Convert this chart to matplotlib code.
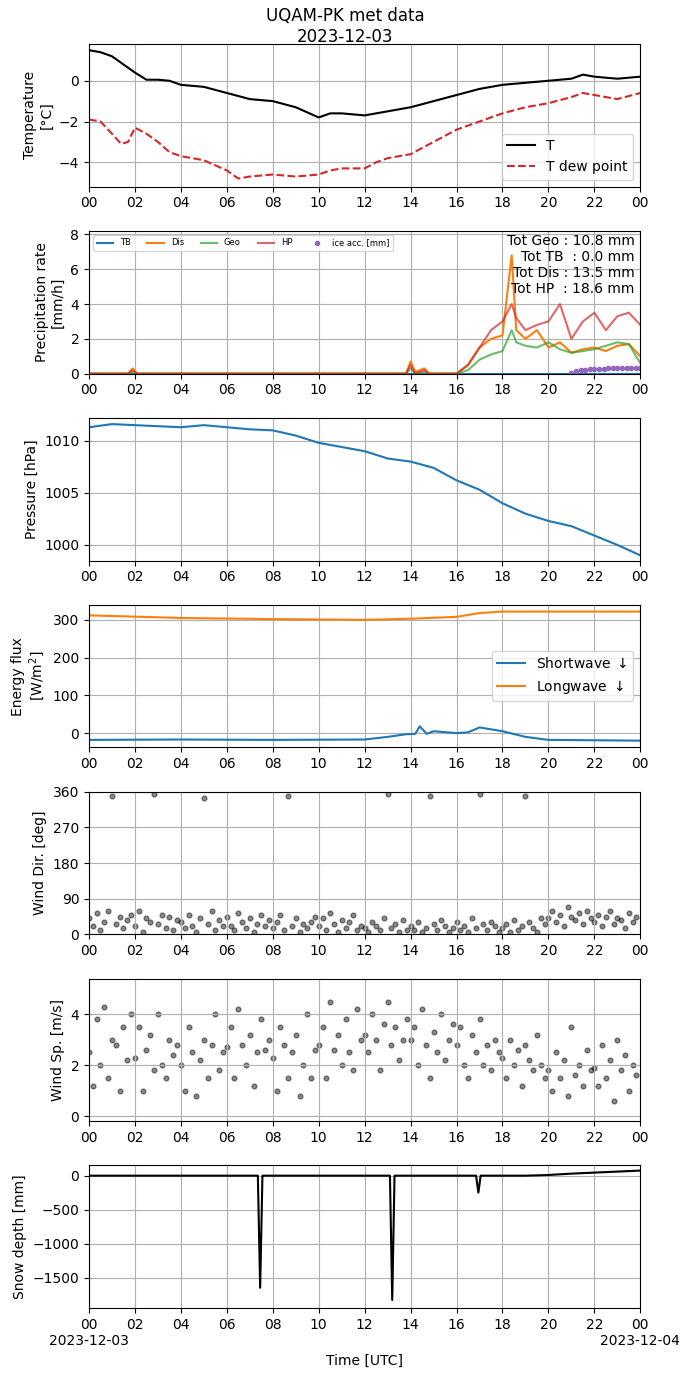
import matplotlib
matplotlib.use("Agg")
import matplotlib.pyplot as plt
import numpy as np

# Temperature
t_T = [0,0.5,1,1.5,2,2.5,3,3.5,4,5,6,7,8,9,10,10.5,11,12,13,14,15,16,17,18,19,20,21,21.5,22,23,24]
T = [1.5,1.4,1.2,0.8,0.4,0.05,0.05,0,-0.2,-0.3,-0.6,-0.9,-1.0,-1.3,-1.8,-1.6,-1.6,-1.7,-1.5,-1.3,-1.0,-0.7,-0.4,-0.2,-0.1,0,0.1,0.3,0.2,0.1,0.2]
t_Td = [0,0.5,1,1.4,1.7,2,2.5,3,3.5,4,5,6,6.5,7,8,9,10,10.5,11,12,12.5,13,14,15,16,17,18,19,20,21,21.5,22,23,24]
Td = [-1.9,-2.0,-2.6,-3.1,-3.0,-2.3,-2.6,-3.0,-3.5,-3.7,-3.9,-4.4,-4.8,-4.7,-4.6,-4.7,-4.6,-4.4,-4.3,-4.3,-4.0,-3.8,-3.6,-3.0,-2.4,-2.0,-1.6,-1.3,-1.1,-0.8,-0.6,-0.7,-0.9,-0.6]

# Precipitation
t_p = [0,1.7,1.9,2.1,13.8,14.0,14.2,14.6,14.8,15,16.0,16.5,17,17.5,18,18.4,18.6,19,19.5,20,20.5,21,21.5,22,22.5,23,23.5,24]
TB  = [0]*len(t_p)
Dis = [0,0,0.3,0,0,0.7,0.1,0.3,0,0,0,0.5,1.5,2.0,2.2,6.8,2.5,2.0,2.5,1.5,1.8,1.2,1.4,1.5,1.3,1.6,1.7,1.0]
Geo = [0,0,0.1,0,0,0.3,0,0.1,0,0,0,0.2,0.8,1.1,1.3,2.5,1.8,1.6,1.5,1.8,1.4,1.2,1.3,1.4,1.6,1.8,1.7,0.6]
HP  = [0,0,0.2,0,0,0.5,0,0.2,0,0,0,0.5,1.5,2.5,3.0,4.0,3.2,2.5,2.8,3.0,4.0,2.0,3.0,3.5,2.5,3.3,3.5,2.8]
t_ice = [21.0,21.2,21.4,21.6,21.8,22.0,22.2,22.4,22.6,22.8,23.0,23.2,23.4,23.6,23.8,24.0]
ice = [0.05,0.15,0.2,0.22,0.25,0.25,0.27,0.28,0.3,0.3,0.3,0.32,0.33,0.33,0.34,0.35]

# Pressure
t_P = list(range(25))
P = [1011.3,1011.6,1011.5,1011.4,1011.3,1011.5,1011.3,1011.1,1011.0,1010.5,1009.8,1009.4,1009.0,1008.3,1008.0,1007.4,1006.2,1005.3,1004.0,1003.0,1002.3,1001.8,1000.9,1000.0,999.0]

# Energy flux
t_sw = [0,4,8,12,13,13.8,14.2,14.4,14.7,15,16,16.5,17,17.5,18,19,20,24]
SW = [-18,-17,-18,-17,-10,-3,-2,18,-2,5,0,2,15,10,5,-10,-18,-20]
t_lw = [0,4,8,12,14,16,17,18,20,24]
LW = [312,305,302,300,303,308,318,322,322,322]

# Wind (10-min samples)
t_w = [i/6 for i in range(144)]
wdir = [40,20,55,10,30,60,350,25,45,15,35,50,
        20,60,5,40,30,355,25,50,15,45,10,35,
        30,15,50,20,5,40,345,25,60,10,35,20,
        45,20,10,55,30,15,40,5,25,50,20,35,
        15,30,50,10,350,20,40,5,25,15,30,45,
        20,40,10,55,25,5,35,15,30,50,10,20,
        15,5,30,20,10,40,355,15,25,5,35,10,
        20,10,30,5,15,350,25,10,35,20,5,15,
        30,10,20,5,40,15,355,25,10,30,20,5,
        15,25,5,35,10,20,350,30,15,5,40,25,
        40,60,30,50,20,70,45,35,55,25,60,40,
        30,50,20,45,60,25,40,35,15,55,30,45]
wsp = [2.5,1.2,3.8,2.0,4.3,1.5,3.0,2.8,1.0,3.5,2.2,4.0,
       2.3,3.5,1.0,2.6,3.2,1.8,4.0,2.0,1.5,3.0,2.4,2.8,
       2.0,1.0,3.5,2.5,0.8,2.2,3.0,1.5,2.8,4.0,1.8,2.5,
       2.7,3.5,1.5,4.2,2.8,2.0,3.2,1.2,2.5,3.8,2.6,3.0,
       2.3,1.0,3.5,2.8,1.5,2.5,3.2,0.8,2.0,4.0,1.5,2.6,
       2.8,3.5,1.5,4.5,2.6,3.2,2.0,3.8,2.5,1.8,4.2,3.0,
       3.2,2.5,4.0,3.0,1.8,3.6,4.5,2.8,3.5,2.2,3.0,3.8,
       3.0,3.5,2.0,4.2,2.8,1.5,3.3,2.5,4.0,2.2,3.0,3.6,
       2.8,3.5,2.0,1.5,3.2,2.5,3.8,2.0,2.8,1.8,3.0,2.5,
       2.3,1.5,3.0,2.0,2.6,1.2,2.8,2.2,1.8,3.2,2.0,1.5,
       1.8,1.0,2.5,1.5,2.2,0.8,3.5,1.6,2.0,1.2,2.6,1.8,
       1.9,1.2,2.8,1.5,2.2,0.6,3.0,1.8,2.4,1.0,2.0,1.6]

# Snow depth
t_s = [0,7.35,7.45,7.55,13.1,13.2,13.3,16.85,16.95,17.05,19,20,21,22,24]
S = [0,0,-1650,0,0,-1830,0,0,-250,0,0,10,30,45,75]

fig, axs = plt.subplots(7,1,figsize=(6.9,13.77),dpi=100)
fig.subplots_adjust(left=0.129,right=0.928,top=0.968,bottom=0.05,hspace=0.31)
fig.suptitle("UQAM-PK met data\n2023-12-03", y=0.995, fontsize=12)

ax=axs[0]
ax.plot(t_T,T,'k-',label='T')
ax.plot(t_Td,Td,'--',color='#d62728',label='T dew point')
ax.set_ylim(-5.2,1.8); ax.set_yticks([-4,-2,0])
ax.set_ylabel("Temperature\n[°C]")
ax.legend(loc='lower right')

ax=axs[1]
ax.plot(t_p,TB,color='#1f77b4',label='TB')
ax.plot(t_p,Dis,color='#ff7f0e',label='Dis')
ax.plot(t_p,Geo,color='#2ca02c',alpha=0.7,label='Geo')
ax.plot(t_p,HP,color='#d62728',alpha=0.7,label='HP')
ax.plot(t_ice,ice,'o',color='#9467bd',ms=3,label='ice acc. [mm]')
ax.set_ylim(0,8.2); ax.set_yticks([0,2,4,6,8])
ax.set_ylabel("Precipitation rate\n[mm/h]")
ax.legend(loc='upper left',ncol=5,fontsize=6)
ax.text(0.99,0.98,"Tot Geo : 10.8 mm\nTot TB  : 0.0 mm\nTot Dis : 13.5 mm\nTot HP  : 18.6 mm",
        transform=ax.transAxes,ha='right',va='top',fontsize=10)

ax=axs[2]
ax.plot(t_P,P,color='#1f77b4')
ax.set_ylim(998.5,1012.2); ax.set_yticks([1000,1005,1010])
ax.set_ylabel("Pressure [hPa]")

ax=axs[3]
ax.plot(t_sw,SW,color='#1f77b4',label='Shortwave $\\downarrow$')
ax.plot(t_lw,LW,color='#ff7f0e',label='Longwave $\\downarrow$')
ax.set_ylim(-38,340); ax.set_yticks([0,100,200,300])
ax.set_ylabel("Energy flux\n[W/m$^2$]")
ax.legend(loc='center right')

ax=axs[4]
ax.scatter(t_w,wdir,s=12,c='k',alpha=0.45)
ax.set_ylim(0,360); ax.set_yticks([0,90,180,270,360])
ax.set_ylabel("Wind Dir. [deg]")

ax=axs[5]
ax.scatter(t_w,wsp,s=12,c='k',alpha=0.45)
ax.set_ylim(-0.2,5.4); ax.set_yticks([0,2,4])
ax.set_ylabel("Wind Sp. [m/s]")

ax=axs[6]
ax.plot(t_s,S,'k-')
ax.set_ylim(-1950,150); ax.set_yticks([-1500,-1000,-500,0])
ax.set_ylabel("Snow depth [mm]")
ax.set_xlabel("Time [UTC]")

ticks=list(range(0,25,2))
labs=["%02d"%(h%24) for h in ticks]
for ax in axs:
    ax.set_xlim(0,24); ax.set_xticks(ticks); ax.set_xticklabels(labs); ax.grid(True)
axs[6].set_xticklabels(["00\n2023-12-03"]+labs[1:-1]+["00\n2023-12-04"])
fig.savefig("out.png")
